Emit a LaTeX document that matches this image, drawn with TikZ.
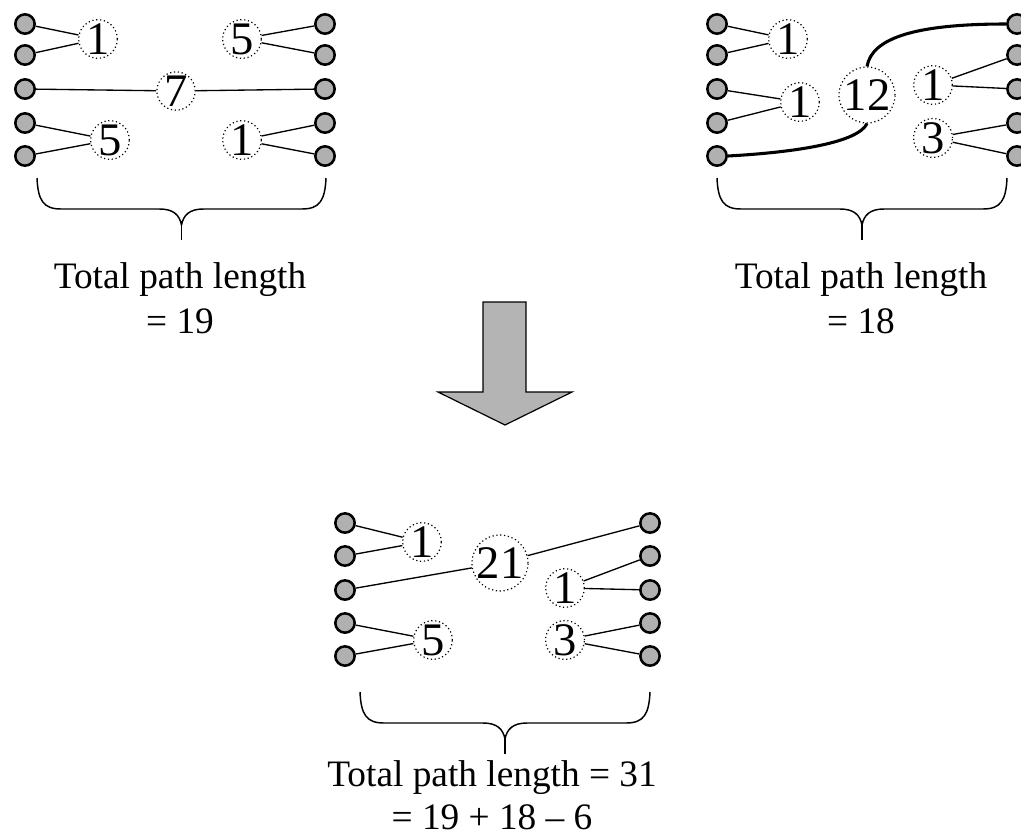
\documentclass[tikz,border=0pt]{standalone}
\usepackage{fontspec}
\setmainfont{Liberation Serif}
\definecolor{pingray}{HTML}{B0B0B0}
\definecolor{arrowgray}{HTML}{B4B4B4}
\tikzset{
  pin/.style={circle, draw=black, line width=1.9pt, fill=pingray, minimum size=14.5pt, inner sep=0pt},
  cost/.style={circle, draw=black, dotted, line width=0.9pt, minimum size=25.5pt, inner sep=0pt, font=\fontsize{35}{35}\selectfont},
  bigcost/.style={cost, minimum size=42pt},
  wire/.style={line width=1pt},
  thickwire/.style={line width=2.3pt},
  bracestyle/.style={line width=1.1pt, line join=round},
  caption/.style={anchor=base, inner sep=0pt, font=\fontsize{28}{33}\selectfont},
  bigarrow/.style={draw=black, line width=0.9pt, fill=arrowgray}
}
\newcommand\curlybrace[3]{%
  \pgfmathsetmacro\bxm{(#1+#2)/2}%
  \draw[bracestyle] (#1,#3) .. controls ({#1+1},{#3+22}) and ({#1+6},{#3+31}) .. ({#1+24},{#3+31})
    -- ({\bxm-22},{#3+31}) .. controls ({\bxm-8},{#3+31}) and ({\bxm-2},{#3+37}) .. (\bxm,{#3+47})
    .. controls ({\bxm+2},{#3+37}) and ({\bxm+8},{#3+31}) .. ({\bxm+22},{#3+31})
    -- ({#2-24},{#3+31}) .. controls ({#2-6},{#3+31}) and ({#2-1},{#3+22}) .. (#2,#3);
  \draw[bracestyle] (\bxm,{#3+47}) -- (\bxm,{#3+62});
}
\begin{document}
\begin{tikzpicture}[x=0.75pt,y=-0.75pt]
\useasboundingbox (0,0) rectangle (1021,839);

% ---------- top-left ----------
\foreach \i/\y in {1/24,2/55,3/89,4/123,5/156}{
  \node[pin] (ap\i) at (25,\y) {};
  \node[pin] (aq\i) at (325,\y) {};
}
\node[cost] (a1) at (98,39) {1};
\node[cost] (a2) at (242,39) {5};
\node[cost] (a3) at (176,91) {7};
\node[cost] (a4) at (110,140) {5};
\node[cost] (a5) at (242,140) {1};
\draw[wire] (ap1) -- (a1) (ap2) -- (a1);
\draw[wire] (aq1) -- (a2) (aq2) -- (a2);
\draw[wire] (ap3) -- (a3) -- (aq3);
\draw[wire] (ap4) -- (a4) (ap5) -- (a4);
\draw[wire] (aq4) -- (a5) (aq5) -- (a5);
\curlybrace{37}{326}{178}
\node[caption] (at1) at (180,288) {Total path length};
\node[caption] (at2) at (180,333) {= 19};

% ---------- top-right ----------
\foreach \i/\y in {1/24,2/55,3/89,4/123,5/156}{
  \node[pin] (bp\i) at (717,\y) {};
  \node[pin] (bq\i) at (1017,\y) {};
}
\node[cost] (b1) at (788,39) {1};
\node[cost] (b2) at (800,102) {1};
\node[bigcost] (b3) at (867,95) {12};
\node[cost] (b4) at (933,85) {1};
\node[cost] (b5) at (933,138) {3};
\draw[wire] (bp1) -- (b1) (bp2) -- (b1);
\draw[wire] (bp3) -- (b2) (bp4) -- (b2);
\draw[wire] (bq2) -- (b4) (bq3) -- (b4);
\draw[wire] (bq4) -- (b5) (bq5) -- (b5);
\draw[thickwire] (bp5.east) .. controls (800,152) and (858,142) .. (b3.south);
\draw[thickwire] (b3.north) .. controls (872,38) and (915,24) .. (bq1.west);
\curlybrace{717}{1007}{178}
\node[caption] (bt1) at (861,288) {Total path length};
\node[caption] (bt2) at (861,333) {= 18};

% ---------- arrow ----------
\draw[bigarrow] (483,302) -- (526,302) -- (526,392) -- (572,392) -- (505,425) -- (438,392) -- (483,392) -- cycle;

% ---------- bottom ----------
\foreach \i/\y in {1/523,2/556,3/590,4/623,5/656}{
  \node[pin] (cp\i) at (345,\y) {};
  \node[pin] (cq\i) at (650,\y) {};
}
\node[cost] (c1) at (422,542) {1};
\node[bigcost] (c2) at (500,563) {21};
\node[cost] (c3) at (565,588) {1};
\node[cost] (c4) at (433,640) {5};
\node[cost] (c5) at (565,640) {3};
\draw[wire] (cp1) -- (c1) (cp2) -- (c1);
\draw[wire] (cp3) -- (c2) -- (cq1);
\draw[wire] (cq2) -- (c3) (cq3) -- (c3);
\draw[wire] (cp4) -- (c4) (cp5) -- (c4);
\draw[wire] (cq4) -- (c5) (cq5) -- (c5);
\curlybrace{360}{650}{692}
\node[caption] (ct1) at (492,786) {Total path length = 31};
\node[caption] (ct2) at (492,829) {= 19 + 18 – 6};
\end{tikzpicture}
\end{document}
